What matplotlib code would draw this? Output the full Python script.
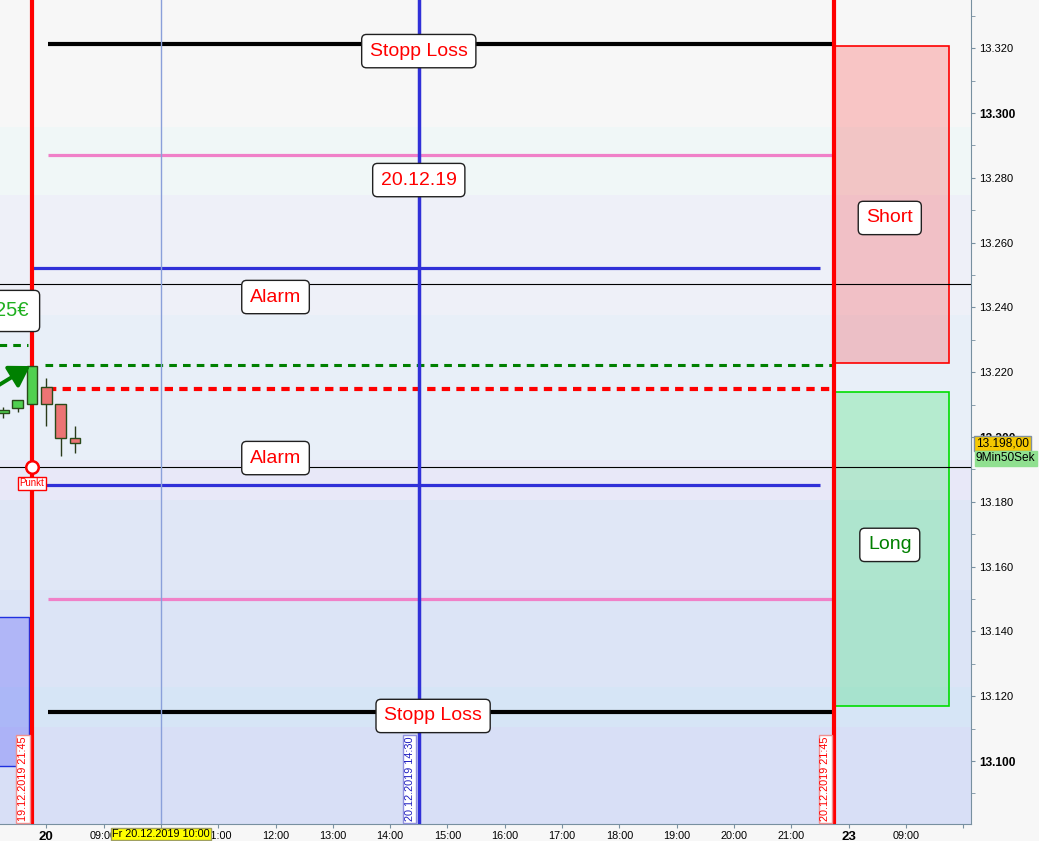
import matplotlib
matplotlib.use("Agg")
import matplotlib.pyplot as plt
from matplotlib.patches import Rectangle
from matplotlib.ticker import FixedLocator, MultipleLocator, FuncFormatter

plt.rcParams['font.family'] = ['Liberation Sans', 'DejaVu Sans']

# Zeitachse in Handelsstunden: 0 = 19.12. 21:00, 1 = 20.12. 08:00 ... 15 = 23.12. 08:00
tick_pos = list(range(0, 18))
tick_labels = ["21:00", "20", "09:00", "10:00", "11:00", "12:00", "13:00", "14:00", "15:00",
               "16:00", "17:00", "18:00", "19:00", "20:00", "21:00", "23", "09:00", ""]

# Kerzen (15 Min)
kerze_t = [0.25, 0.5, 0.75, 1.0, 1.25, 1.5]
kerze_open = [13207.4, 13208.9, 13210.1, 13215.3, 13210.1, 13199.6]
kerze_high = [13209.4, 13211.4, 13221.9, 13218.1, 13210.1, 13203.4]
kerze_low = [13206.0, 13207.6, 13210.1, 13203.5, 13194.2, 13195.2]
kerze_close = [13208.3, 13211.4, 13221.9, 13210.1, 13199.6, 13198.0]

# Linien
stopp_loss = [13321.3, 13115.1]
pink_linien = [13287.0, 13150.0]
blau_linien = [13252.2, 13185.2]
alarm = [13247.2, 13190.7]
gruen_dash = 13222.2
gruen_dash_links = 13228.4
rot_dash = 13214.8
zeit_start = 0.75     # 19.12.2019 21:45
zeit_mitte = 7.5      # 20.12.2019 14:30
zeit_ende = 14.75     # 20.12.2019 21:45
fadenkreuz = 3.0      # Fr 20.12.2019 10:00

short_box = [13222.8, 13320.7]
long_box = [13117.0, 13213.9]
blau_box = [13098.5, 13144.4]
kurs = 13198.0

# Hintergrund-Baender (Preisgrenzen + Farben)
band_grenzen = [13080, 13110.5, 13122.8, 13152.8, 13180.6, 13192.9, 13237.7, 13274.7, 13295.7, 13340]
band_farben = ["#D8DFF6", "#D6E5F6", "#DCE4F6", "#E0E7F6", "#E8E8F8", "#E8EFF8", "#EEF0F8", "#F0F7F7", "#F7F7F7"]

fig = plt.figure(figsize=(10.39, 8.41), dpi=100)
fig.patch.set_facecolor("#F7F7F7")
ax = fig.add_axes([0, 17 / 841, 971 / 1039, 824 / 841])
ax.set_xlim(0.75 - 32 / 57.3, 0.75 + 939 / 57.3)
ax.set_ylim(13100 - 63 / 3.24, 13300 + 113 / 3.24)

for i in range(len(band_farben)):
    ax.axhspan(band_grenzen[i], band_grenzen[i + 1], color=band_farben[i], zorder=0, lw=0)

# Boxen rechts
ax.add_patch(Rectangle((zeit_ende, short_box[0]), 2.0, short_box[1] - short_box[0],
                       facecolor=(1, 0, 0, 0.2), edgecolor="#FF0000", lw=1.2, zorder=1))
ax.add_patch(Rectangle((zeit_ende, long_box[0]), 2.0, long_box[1] - long_box[0],
                       facecolor=(0, 0.88, 0.25, 0.22), edgecolor="#00DD00", lw=1.2, zorder=1))
ax.add_patch(Rectangle((-1, blau_box[0]), 1.7, blau_box[1] - blau_box[0],
                       facecolor=(0, 0, 1, 0.2), edgecolor="#2030E0", lw=1, zorder=1))

# horizontale Linien
for y in alarm:
    ax.axhline(y, color="black", lw=0.8, zorder=2)
for y in stopp_loss:
    ax.hlines(y, 1.03, zeit_ende, color="black", lw=3, zorder=2)
for y in pink_linien:
    ax.hlines(y, 1.03, zeit_ende, color="#F080C8", lw=2.3, zorder=2)
for y in blau_linien:
    ax.hlines(y, zeit_start, 14.5, color="#3030D8", lw=2.3, zorder=2)
ax.hlines(gruen_dash, 0.98, zeit_ende, color="#008000", lw=2.2, linestyles=(0, (2.5, 2)), zorder=2)
ax.hlines(gruen_dash_links, -0.5, 0.68, color="#008000", lw=2.2, linestyles=(0, (2.5, 2)), zorder=2)
ax.hlines(rot_dash, 1.03, zeit_ende, color="#FF0000", lw=3, linestyles=(0, (2, 1.5)), zorder=2)

# vertikale Linien
ax.axvline(fadenkreuz, color="#8AA0DA", lw=1, zorder=2)
ax.axvline(zeit_mitte, color="#3030D8", lw=2.5, zorder=3)
ax.axvline(zeit_start, color="#FF0000", lw=3, zorder=3)
ax.axvline(zeit_ende, color="#FF0000", lw=3, zorder=3)

# Kerzen
for t, o, h, l, c in zip(kerze_t, kerze_open, kerze_high, kerze_low, kerze_close):
    farbe = "#50D050" if c >= o else "#EC7474"
    ax.vlines(t, l, h, color="#2A3A1A", lw=1, zorder=4)
    ax.bar(t, max(abs(c - o), 0.6), bottom=min(o, c), width=0.19, color=farbe,
           edgecolor="#2A4A1A", lw=1, zorder=5)

# Pfeil
ax.annotate("", xy=(0.715, 13221.9), xytext=(-0.2, 13212.0),
            arrowprops=dict(arrowstyle="-|>,head_length=1.2,head_width=0.75", color="#008000",
                            lw=2.8, shrinkA=0, shrinkB=0), zorder=6)

# Punkt
ax.plot(zeit_start, alarm[1], "o", ms=9, mfc="white", mec="#FF0000", mew=1.8, zorder=7)
ax.annotate("Punkt", xy=(zeit_start, alarm[1]), xytext=(0, -16), textcoords="offset pixels",
            ha="center", va="center", fontsize=7, color="#FF0000", zorder=7,
            bbox=dict(boxstyle="square,pad=0.15", fc="white", ec="#FF0000", lw=1))

# Textboxen
box = dict(boxstyle="round,pad=0.42,rounding_size=0.25", fc="white", ec="#202020", lw=1)
ax.text(zeit_mitte, 13319.1, "Stopp Loss", fontsize=14, color="#FF0000", ha="center", va="center", bbox=box, zorder=8)
ax.text(zeit_mitte, 13279.3, "20.12.19", fontsize=14, color="#FF0000", ha="center", va="center", bbox=box, zorder=8)
ax.text(5.0, 13243.2, "Alarm", fontsize=14, color="#FF0000", ha="center", va="center", bbox=box, zorder=8)
ax.text(5.0, 13193.5, "Alarm", fontsize=14, color="#FF0000", ha="center", va="center", bbox=box, zorder=8)
ax.text(15.72, 13267.6, "Short", fontsize=14, color="#FF0000", ha="center", va="center", bbox=box, zorder=8)
ax.text(15.72, 13166.7, "Long", fontsize=14, color="#008000", ha="center", va="center", bbox=box, zorder=8)
ax.text(7.75, 13113.9, "Stopp Loss", fontsize=14, color="#FF0000", ha="center", va="center", bbox=box, zorder=8)
ax.text(0.69, 13238.9, "25€", fontsize=14.5, color="#20B020", ha="right", va="center", zorder=8,
        bbox=dict(boxstyle="round,pad=0.55,rounding_size=0.25", fc="white", ec="#202020", lw=1))

# Datumslabels unten
for t, txt, fc, ec in [(zeit_start, "19.12.2019 21:45", "#FF0000", "#F09090"),
                       (zeit_mitte, "20.12.2019 14:30", "#2020C0", "#9090E0"),
                       (zeit_ende, "20.12.2019 21:45", "#FF0000", "#F09090")]:
    ax.annotate(txt, xy=(t, 0), xycoords=("data", "axes fraction"), xytext=(-9, 3),
                textcoords="offset pixels", rotation=90, ha="center", va="bottom",
                fontsize=7.8, color=fc, zorder=8,
                bbox=dict(boxstyle="square,pad=0.15", fc="white", ec=ec, lw=1))

# Achsen
for s in ["top", "left"]:
    ax.spines[s].set_visible(False)
for s in ["right", "bottom"]:
    ax.spines[s].set_color("#7890A0")
ax.yaxis.tick_right()
ax.yaxis.set_major_locator(MultipleLocator(20))
ax.yaxis.set_minor_locator(MultipleLocator(10))
ax.yaxis.set_major_formatter(FuncFormatter(lambda v, p: f"{v:,.0f}".replace(",", ".")))
ax.tick_params(axis="y", which="both", colors="#7890A0", labelcolor="black", length=3, labelsize=8, pad=3)
fig.canvas.draw()
for lab in ax.get_yticklabels():
    if lab.get_text() in ("13.300", "13.200", "13.100"):
        lab.set_fontweight("bold")
        lab.set_fontsize(8.6)

ax.xaxis.set_major_locator(FixedLocator(tick_pos))
ax.set_xticklabels(tick_labels)
ax.tick_params(axis="x", colors="#7890A0", labelcolor="black", length=3, labelsize=7.8, pad=2)
for lab in ax.get_xticklabels():
    if lab.get_text() in ("20", "23"):
        lab.set_fontweight("bold")
        lab.set_fontsize(9.5)

# Infolabels
ax.annotate("Fr 20.12.2019 10:00", xy=(fadenkreuz, 0), xycoords=("data", "axes fraction"),
            xytext=(0, -10), textcoords="offset pixels", ha="center", va="center", fontsize=7.8,
            annotation_clip=False, zorder=10,
            bbox=dict(boxstyle="square,pad=0.12", fc="#FFFF00", ec="#A0A060", lw=1))
ax.annotate("13.198,00", xy=(1, kurs), xycoords=("axes fraction", "data"), xytext=(5, 0),
            textcoords="offset pixels", ha="left", va="center", fontsize=8.6,
            annotation_clip=False, zorder=10,
            bbox=dict(boxstyle="square,pad=0.15", fc="#F5C800", ec="#8090A0", lw=1))
ax.annotate("9Min50Sek", xy=(1, kurs), xycoords=("axes fraction", "data"), xytext=(5, -15),
            textcoords="offset pixels", ha="left", va="center", fontsize=8.6,
            annotation_clip=False, zorder=10,
            bbox=dict(boxstyle="square,pad=0.12", fc="#90E090", ec="#90E090", lw=1))

plt.savefig("out.png", dpi=100, facecolor=fig.get_facecolor())
